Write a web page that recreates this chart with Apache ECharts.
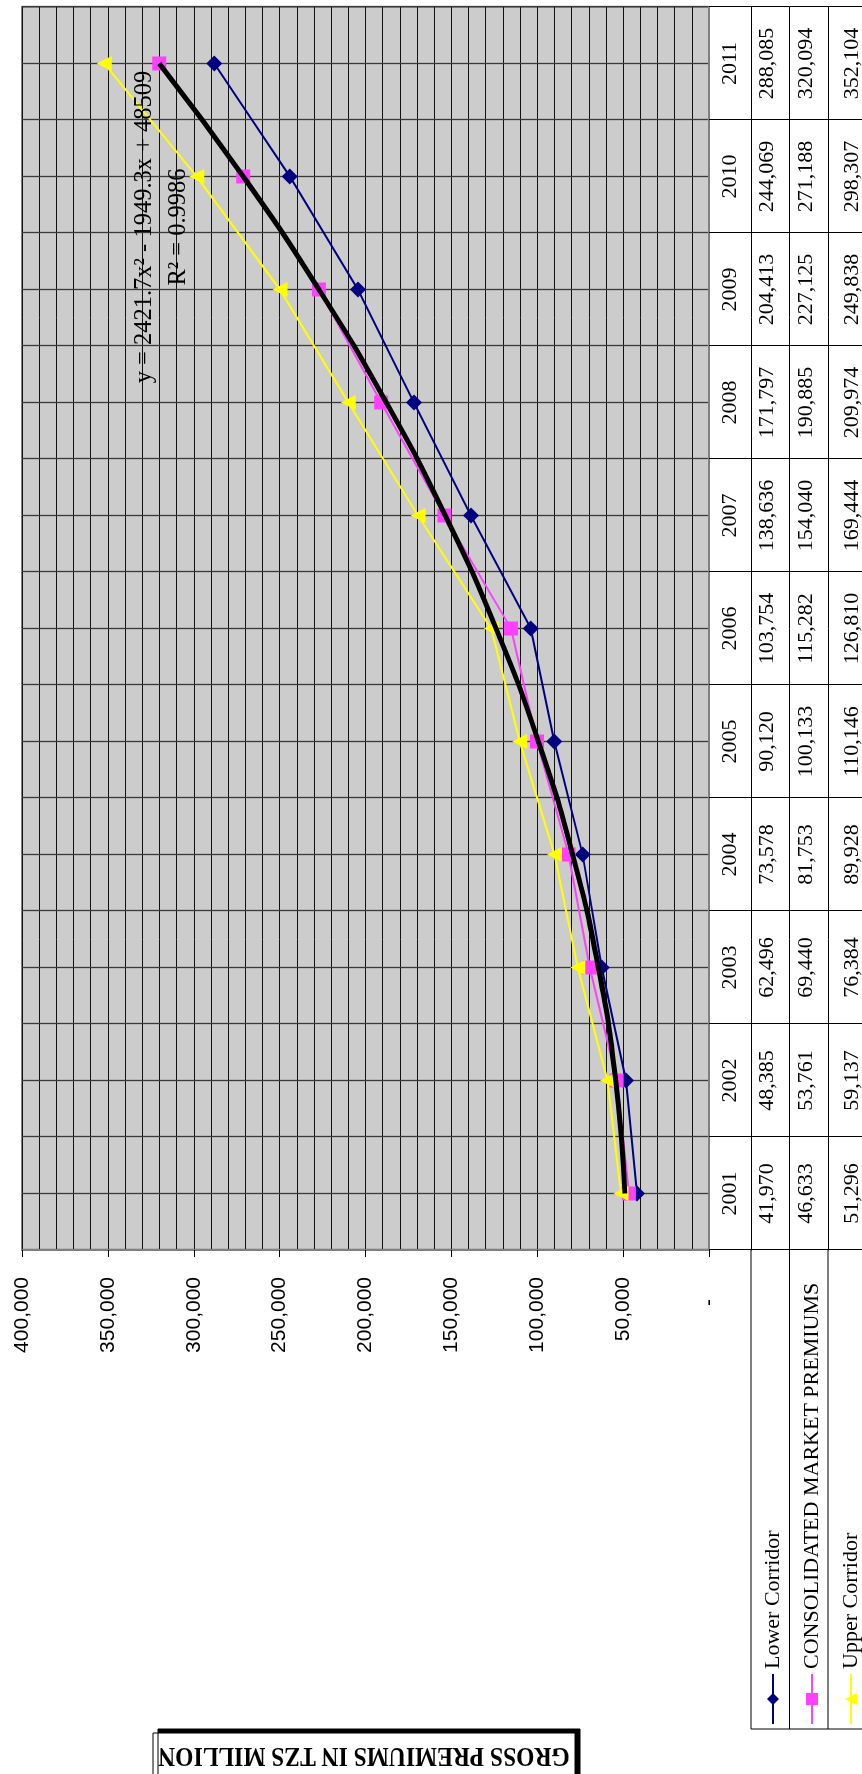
<!DOCTYPE html>
<html>
<head>
<meta charset="utf-8">
<script src="https://cdn.jsdelivr.net/npm/echarts@6/dist/echarts.min.js"></script>
<style>
html,body{margin:0;padding:0;width:862px;height:1774px;overflow:hidden;background:#ffffff;}
#rot{position:absolute;left:0;top:0;width:1774px;height:862px;transform-origin:0 0;transform:translate(0,1774px) rotate(-90deg);}
</style>
</head>
<body>
<div id="rot"></div>
<script>
// ---------------- data ----------------
const years = ['2001','2002','2003','2004','2005','2006','2007','2008','2009','2010','2011'];
const lowerCorridor = [41970, 48385, 62496, 73578, 90120, 103754, 138636, 171797, 204413, 244069, 288085];
const consolidatedPremiums = [46633, 53761, 69440, 81753, 100133, 115282, 154040, 190885, 227125, 271188, 320094];
const upperCorridor = [51296, 59137, 76384, 89928, 110146, 126810, 169444, 209974, 249838, 298307, 352104];
// polynomial trendline values read at each year (from the printed equation)
const trendValues = [48981, 54297, 64456, 79459, 99305, 123994, 153527, 187903, 227123, 271186, 320092];
const valueTickLabels = ['-', '50,000', '100,000', '150,000', '200,000', '250,000', '300,000', '350,000', '400,000'];
const seriesNames = ['Lower Corridor', 'CONSOLIDATED MARKET PREMIUMS', 'Upper Corridor'];
const equationText = 'y = 2421.7x\u00B2 - 1949.3x + 48509';
const r2Text = 'R\u00B2 = 0.9986';
const axisTitle = 'GROSS PREMIUMS IN TZS MILLION';

// ---------------- layout (inner, unrotated frame) ----------------
const W = 1774, H = 862;
const G = {left: 524, right: 7, top: 22, bottom: 153};
const gridBottomY = H - G.bottom;       // 709
const yearRowH = 42;
const rowH = 38.5;
const legendColLeft = 45;
const serif = "'Liberation Serif','Times New Roman',serif";
const sans = "'Liberation Sans',Arial,sans-serif";
const tableLine = {color: '#000', width: 1};

function rowAxis(idx, values, margin) {
  return {
    type: 'category', data: years, gridIndex: 0, position: 'bottom',
    offset: yearRowH + rowH * idx,
    axisLine: {show: true, onZero: false, lineStyle: tableLine},
    axisTick: {show: true, interval: 0, length: rowH + (idx === 2 ? 2 : 0), lineStyle: tableLine},
    axisLabel: {show: true, interval: 0, margin: margin, fontFamily: serif, fontSize: 22, lineHeight: 22, color: '#000',
      formatter: (v, i) => values[i].toLocaleString('en-US')},
    splitLine: {show: false}
  };
}

const chart = echarts.init(document.getElementById('rot'), null, {renderer: 'canvas', width: W, height: H});

const legendLines = [];
for (let k = 0; k <= 3; k++) {
  const y = gridBottomY + yearRowH + rowH * k;
  legendLines.push({type: 'line', silent: true, shape: {x1: legendColLeft, y1: y, x2: G.left, y2: y},
    style: {stroke: '#000', lineWidth: 1}, z: 5});
}
legendLines.push({type: 'line', silent: true,
  shape: {x1: legendColLeft, y1: gridBottomY + yearRowH, x2: legendColLeft, y2: gridBottomY + yearRowH + rowH * 3 + 4},
  style: {stroke: '#000', lineWidth: 1}, z: 5});

const option = {
  animation: false,
  backgroundColor: '#ffffff',
  grid: {left: G.left, right: G.right, top: G.top, bottom: G.bottom, containLabel: false, outerBoundsMode: 'none',
    show: true, backgroundColor: '#cccccc', borderColor: '#808080', borderWidth: 2},
  legend: {
    data: seriesNames, orient: 'vertical', left: 49, top: 762, itemGap: 17, itemWidth: 50, itemHeight: 15,
    padding: 0, selectedMode: false,
    textStyle: {fontFamily: serif, fontSize: 22, lineHeight: 22, color: '#000'}
  },
  xAxis: [
    {
      type: 'category', data: years, boundaryGap: true, position: 'bottom', offset: 0,
      axisLine: {show: true, onZero: false, lineStyle: {color: '#808080', width: 2}},
      axisTick: {show: true, interval: 0, length: yearRowH, lineStyle: tableLine},
      axisLabel: {show: true, interval: 0, margin: 10, fontFamily: serif, fontSize: 22, lineHeight: 22, color: '#000'},
      splitLine: {show: false}
    },
    rowAxis(0, lowerCorridor, 5.5),
    rowAxis(1, consolidatedPremiums, 6),
    rowAxis(2, upperCorridor, 13),
    {
      type: 'value', min: 0, max: years.length * 2, interval: 1, position: 'top',
      axisLine: {show: false}, axisTick: {show: false}, axisLabel: {show: false},
      splitLine: {show: true, lineStyle: {color: '#3a3a3a', width: 1.3}}
    }
  ],
  yAxis: {
    type: 'value', min: 0, max: 400000, interval: 50000,
    axisLine: {show: true, onZero: false, lineStyle: {color: '#808080', width: 2}},
    axisTick: {show: true, length: 7, lineStyle: {color: '#000', width: 1}},
    axisLabel: {
      margin: 27, fontFamily: sans, fontSize: 21, color: '#000',
      formatter: (v) => {
        const i = Math.round(v / 50000);
        return i === 0 ? '{z|' + valueTickLabels[0] + '}' : valueTickLabels[i];
      },
      rich: {z: {fontFamily: sans, fontSize: 21, color: '#000', padding: [0, 22, 0, 0]}}
    },
    splitLine: {show: true, lineStyle: {color: '#111111', width: 1}},
    minorTick: {show: false, splitNumber: 5},
    minorSplitLine: {show: true, lineStyle: {color: '#111111', width: 1}}
  },
  series: [
    {name: seriesNames[0], type: 'line', xAxisIndex: 0, yAxisIndex: 0, data: lowerCorridor,
      symbol: 'diamond', symbolSize: 16, showAllSymbol: true,
      lineStyle: {color: '#000080', width: 2}, itemStyle: {color: '#000080'}, z: 3},
    {name: seriesNames[1], type: 'line', xAxisIndex: 0, yAxisIndex: 0, data: consolidatedPremiums,
      symbol: 'rect', symbolSize: 14, showAllSymbol: true,
      lineStyle: {color: '#ff40ff', width: 2}, itemStyle: {color: '#ff40ff'}, z: 3},
    {name: seriesNames[2], type: 'line', xAxisIndex: 0, yAxisIndex: 0, data: upperCorridor,
      symbol: 'triangle', symbolSize: 15, showAllSymbol: true,
      lineStyle: {color: '#ffff00', width: 2}, itemStyle: {color: '#ffff00'}, z: 3},
    {name: 'Poly. (CONSOLIDATED MARKET PREMIUMS)', type: 'line', xAxisIndex: 0, yAxisIndex: 0, data: trendValues,
      smooth: true, symbol: 'none', lineStyle: {color: '#000000', width: 5}, z: 4}
  ],
  graphic: [
    {type: 'text', silent: true, x: 1547, y: 145, z: 20,
      style: {text: equationText, font: '24.5px ' + serif, fill: '#000', align: 'center', verticalAlign: 'middle',
        textAlign: 'center', textVerticalAlign: 'middle'}},
    {type: 'text', silent: true, x: 1547, y: 179, z: 20,
      style: {text: r2Text, font: '24.5px ' + serif, fill: '#000', align: 'center', verticalAlign: 'middle',
        textAlign: 'center', textVerticalAlign: 'middle'}},
    {type: 'rect', silent: true, z: 30,
      shape: {x: -6, y: 153, width: 47, height: 422},
      style: {fill: '#ffffff', stroke: '#000000', lineWidth: 1, shadowColor: '#000000', shadowOffsetX: 4, shadowOffsetY: 5, shadowBlur: 0}},
    {type: 'text', silent: true, z: 31, x: 19, y: 364, rotation: Math.PI / 2, scaleY: 1.2,
      style: {text: axisTitle, font: 'bold 23.5px ' + serif, fill: '#000', align: 'center', verticalAlign: 'middle',
        textAlign: 'center', textVerticalAlign: 'middle'}}
  ].concat(legendLines)
};
chart.setOption(option);
</script>
</body>
</html>
